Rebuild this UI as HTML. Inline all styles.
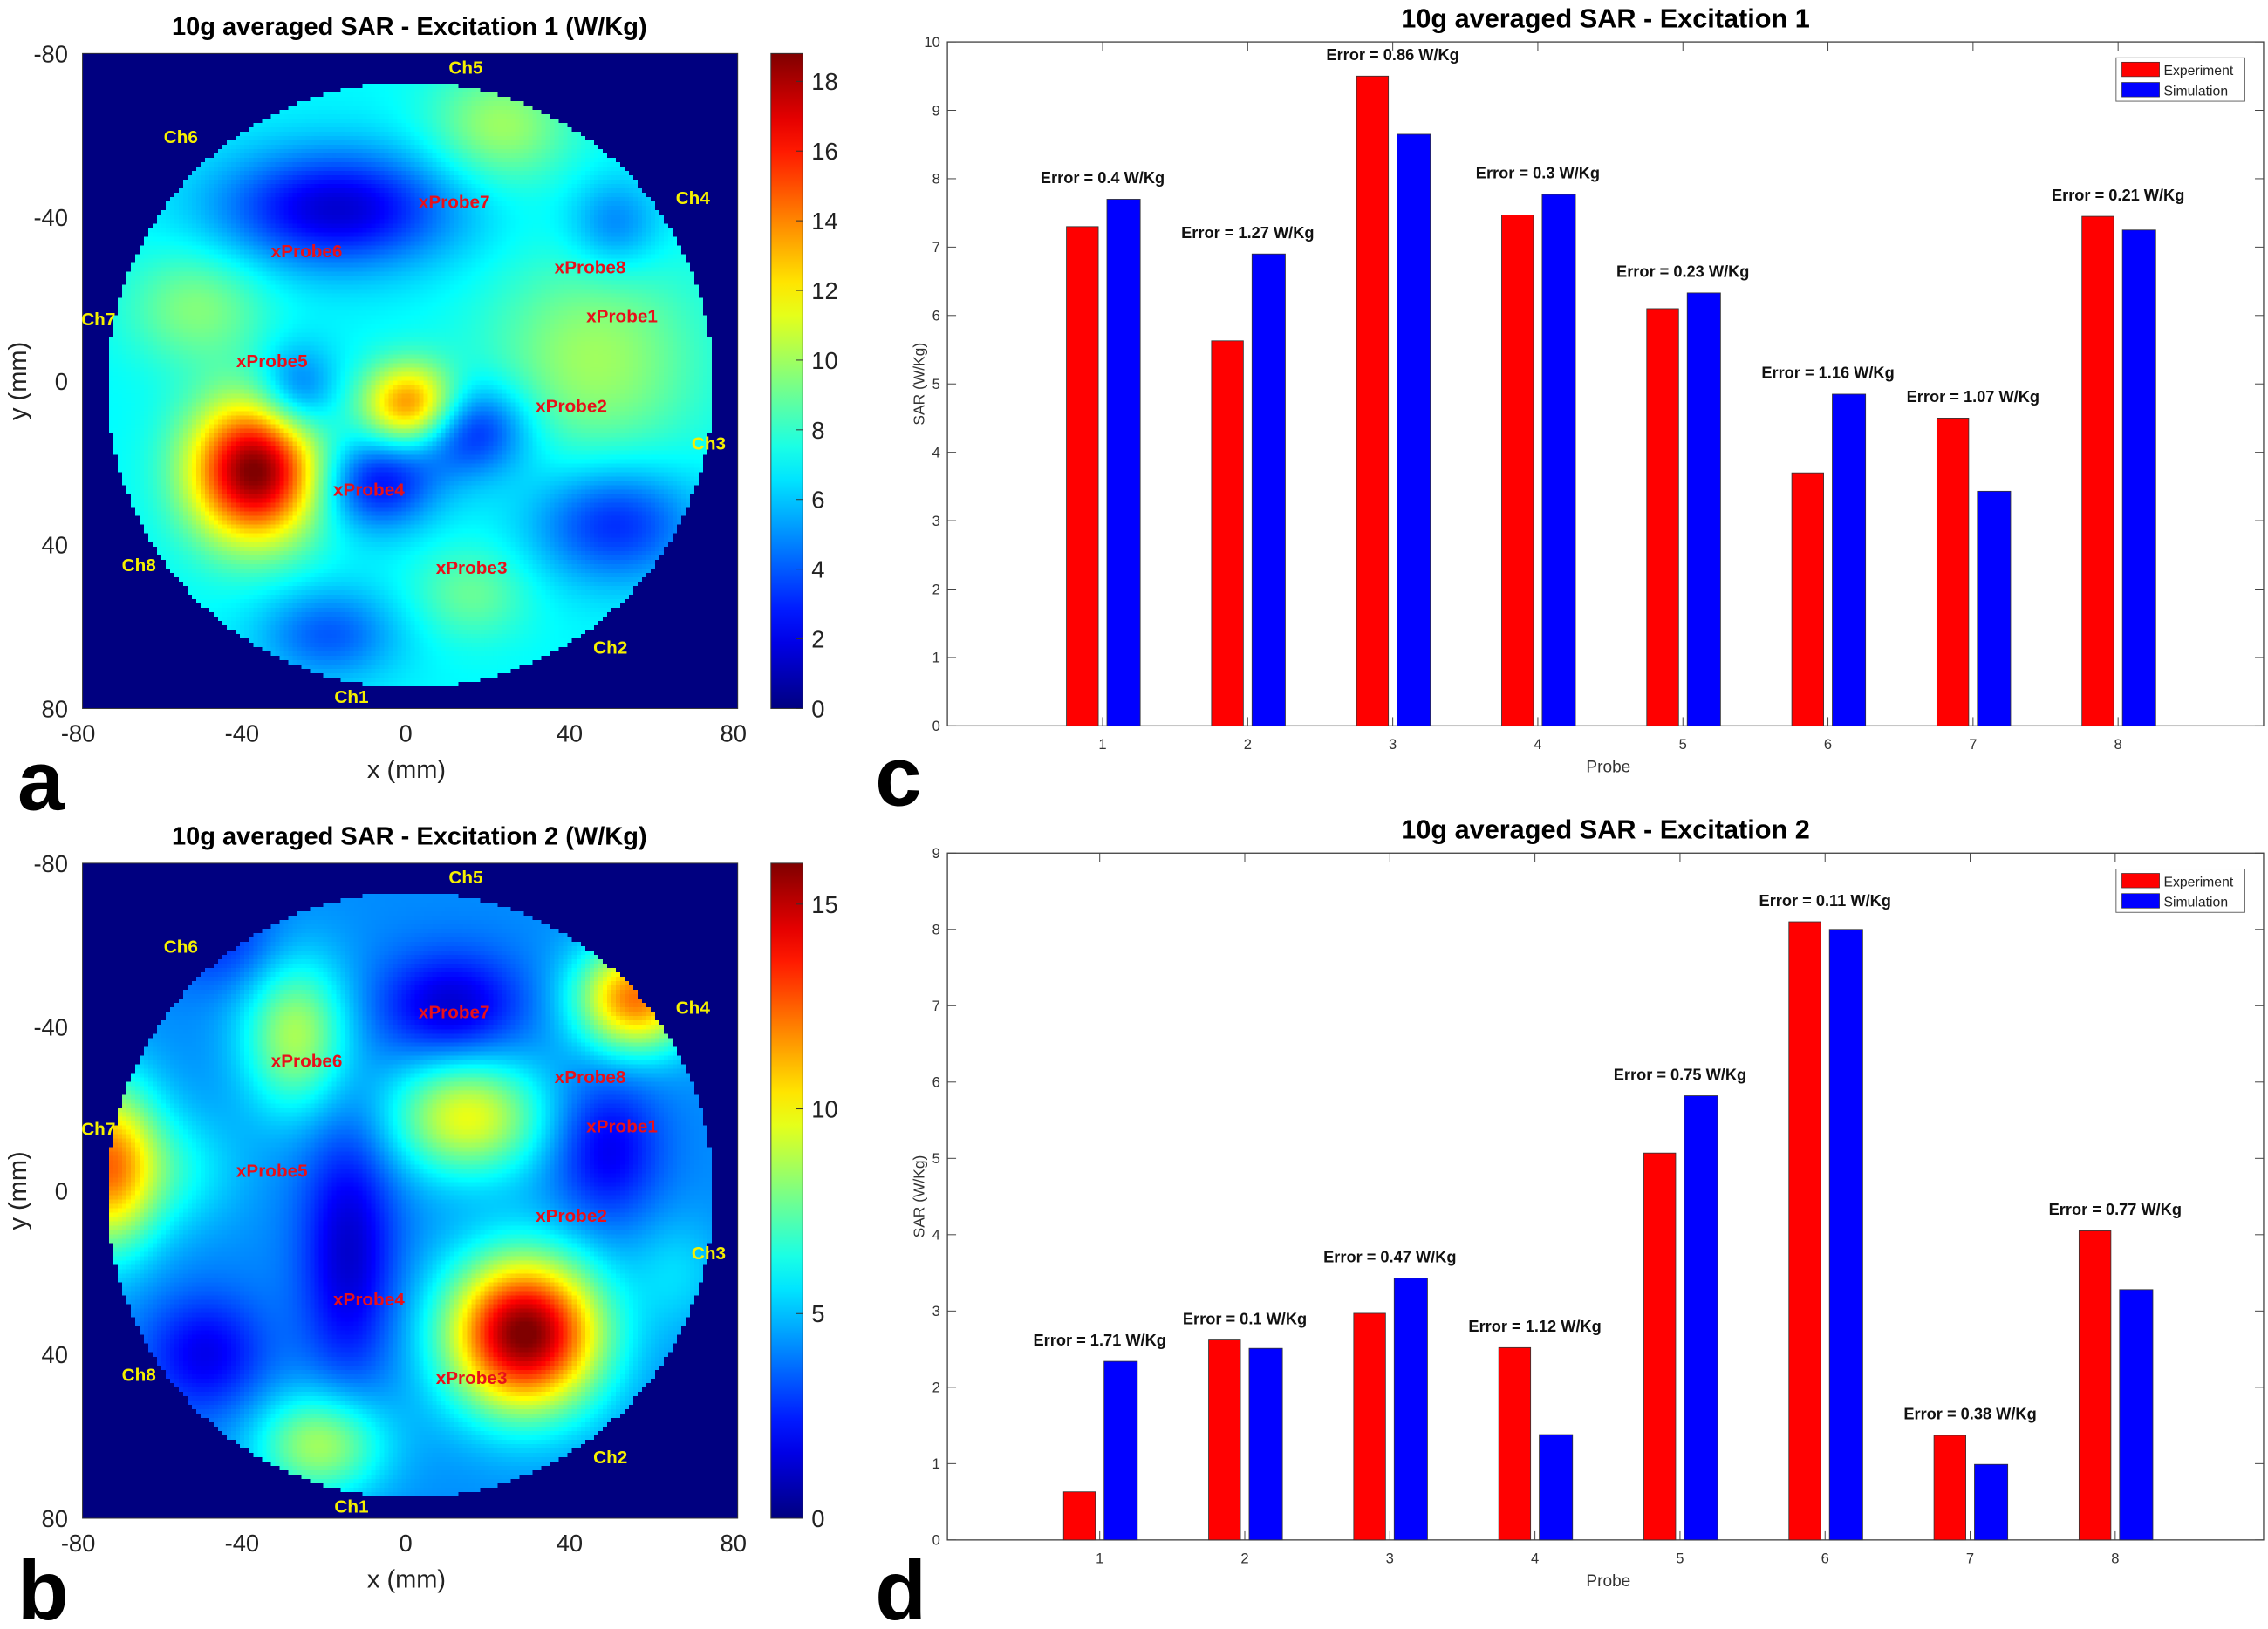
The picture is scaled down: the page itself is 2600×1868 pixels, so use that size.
<!DOCTYPE html>
<html><head><meta charset="utf-8">
<style>
html,body{margin:0;padding:0;background:#fff;}
#root{position:relative;width:2600px;height:1868px;overflow:hidden;background:#fff;}
svg{position:absolute;left:0;top:0;}
canvas{position:absolute;image-rendering:pixelated;}
text{font-family:"Liberation Sans",Arial,sans-serif;}
</style></head>
<body>
<div id="root">
<canvas id="hmA" width="150" height="150"></canvas>
<canvas id="hmB" width="150" height="150"></canvas>
<svg id="main" width="2600" height="1868" viewBox="0 0 1568 1126.6"></svg>
</div>
<script>
// ---------- data ----------
const probes = [1,2,3,4,5,6,7,8];
const expC = [7.3,5.63,9.5,7.47,6.1,3.7,4.5,7.45];
const simC = [7.7,6.9,8.65,7.77,6.33,4.85,3.43,7.25];
const errC = ["0.4","1.27","0.86","0.3","0.23","1.16","1.07","0.21"];
const expD = [0.63,2.62,2.97,2.52,5.07,8.1,1.37,4.05];
const simD = [2.34,2.51,3.43,1.38,5.82,8.0,0.99,3.28];
const errD = ["1.71","0.1","0.47","1.12","0.75","0.11","0.38","0.77"];
const yTicksC = [0,1,2,3,4,5,6,7,8,9,10];
const yTicksD = [0,1,2,3,4,5,6,7,8,9];
const mapTicks = [-80,-40,0,40,80];
const cbTicksA = [0,2,4,6,8,10,12,14,16,18];
const cbTicksB = [0,5,10,15];
// heatmap blobs: [x mm, y mm, amplitude, sigma-x mm, sigma-y mm]
const baseA = 7;
const blobsA = [[-38,22,12,11,12],[0,6,7.5,8,7],[-18,-42,-5.5,20,10],[-8,25,-4.5,10,8],[15,12,-4.5,10,8],[50,35,-4,14,10],[-28,3,-3.5,7,8],[50,-38,-2.5,8,8],[-20,62,-3,12,8],[22,-62,3,12,10],[-52,-18,2.5,12,10],[45,-5,3,18,18],[15,52,2,10,8]];
const baseB = 4.2;
const blobsB = [[28,35,12,13,13],[55,-47,8,10,9],[-74,-6,8,9,14],[14,-18,5.5,13,10],[-28,-38,4.5,9,13],[-22,62,4.5,11,9],[-15,15,-3,8,22],[10,-45,-3,12,9],[-50,40,-2.5,10,10],[48,-10,-2.5,9,12],[-55,-5,1.5,10,10],[65,20,1.2,8,10],[-45,-60,-1.5,10,8]];
const chA = [["Ch5",322,47],["Ch6",125,95],["Ch4",479,137],["Ch7",68,221],["Ch3",490,307],["Ch8",96,391],["Ch2",422,448],["Ch1",243,482]];
const prA = [["xProbe7",314,140],["xProbe6",212,174],["xProbe8",408,185],["xProbe1",430,219],["xProbe5",188,250],["xProbe2",395,281],["xProbe4",255,339],["xProbe3",326,393]];

const S = 2600/1568;
const NS = "http://www.w3.org/2000/svg";
const svg = document.getElementById('main');
function el(tag, attrs, parent, txt){
  const e = document.createElementNS(NS, tag);
  for (const k in attrs) e.setAttribute(k, attrs[k]);
  if (txt !== undefined) e.textContent = txt;
  (parent||svg).appendChild(e);
  return e;
}
function jet(t){
  t=Math.max(0,Math.min(1,t));
  const r=Math.max(0,Math.min(1,1.5-Math.abs(4*t-3)));
  const g=Math.max(0,Math.min(1,1.5-Math.abs(4*t-2)));
  const b=Math.max(0,Math.min(1,1.5-Math.abs(4*t-1)));
  return [Math.round(r*255),Math.round(g*255),Math.round(b*255)];
}
const defs = el('defs',{});
const lg = el('linearGradient',{id:'jetg',x1:'0',y1:'1',x2:'0',y2:'0'},defs);
for(let i=0;i<=20;i++){const c=jet(i/20);el('stop',{offset:(i/20),'stop-color':`rgb(${c})`},lg);}

function heat(canvasId, top, base, blobs, vmax, title, cbTicks, chs, dy, letter){
  const L=57, T=top, W=453;
  const cv=document.getElementById(canvasId);
  cv.style.left=(L*S)+'px'; cv.style.top=(T*S)+'px';
  cv.style.width=(W*S)+'px'; cv.style.height=(W*S)+'px';
  const ctx=cv.getContext('2d'); const N=150;
  const img=ctx.createImageData(N,N);
  for(let j=0;j<N;j++)for(let i=0;i<N;i++){
    const x=-80+(i+0.5)*160/N, y=-80+(j+0.5)*160/N;
    let v;
    if (x*x+(y-1)*(y-1)>74*74) v=0;
    else { v=base; for(const b of blobs){const dx=(x-b[0])/b[3],dy2=(y-b[1])/b[4];v+=b[2]*Math.exp(-(dx*dx+dy2*dy2)/2);} v=Math.max(1.0,v); }
    const c=jet(v/vmax); const k=(j*N+i)*4;
    img.data[k]=c[0];img.data[k+1]=c[1];img.data[k+2]=c[2];img.data[k+3]=255;
  }
  ctx.putImageData(img,0,0);
  const g=el('g',{});
  const mx=v=>L+(v+80)/160*W, my=v=>T+(v+80)/160*W;
  el('rect',{x:L,y:T,width:W,height:W,fill:'none',stroke:'#333','stroke-width':0.6},g);
  el('text',{x:283,y:T-13,'text-anchor':'middle','font-size':17.5,'font-weight':'bold'},g,title);
  for(const t of mapTicks){
    el('text',{x:mx(t)-3,y:T+W+23,'text-anchor':'middle','font-size':16.5,fill:'#222'},g,String(t));
    el('text',{x:L-10,y:my(t)+6,'text-anchor':'end','font-size':16.5,fill:'#222'},g,String(t));
  }
  el('text',{x:281,y:T+W+48,'text-anchor':'middle','font-size':17.5,fill:'#222'},g,'x (mm)');
  el('text',{x:0,y:0,'text-anchor':'middle','font-size':17.5,fill:'#222',transform:`translate(18,${T+W/2}) rotate(-90)`},g,'y (mm)');
  el('rect',{x:533,y:T,width:22,height:W,fill:'url(#jetg)',stroke:'#333','stroke-width':0.6,},g);
  for(const t of cbTicks){
    const yy=T+W-t/vmax*W;
    el('line',{x1:550,x2:555,y1:yy,y2:yy,stroke:'#333','stroke-width':0.6},g);
    el('text',{x:561,y:yy+6,'font-size':16.5,fill:'#222'},g,String(t));
  }
  for(const c of chs[0]) el('text',{x:c[1],y:c[2]+dy+4,'text-anchor':'middle','font-size':12.5,'font-weight':'bold',fill:'#f5f000'},g,c[0]);
  for(const c of chs[1]) el('text',{x:c[1],y:c[2]+dy+4,'text-anchor':'middle','font-size':12.5,'font-weight':'bold',fill:'#e8101a'},g,c[0]);
  el('text',{x:12,y:T+W+70,'font-size':58,'font-weight':'bold',fill:'#000'},g,letter);
}
heat('hmA',37,baseA,blobsA,18.8,'10g averaged SAR - Excitation 1 (W/Kg)',cbTicksA,[chA,prA],0,'a');
heat('hmB',597,baseB,blobsB,16.0,'10g averaged SAR - Excitation 2 (W/Kg)',cbTicksB,[chA,prA],560,'b');

function bars(top,bottom,ymax,exp,sim,err,ticks,title,letter,left0){
  const L=655,R=1565;
  const g=el('g',{});
  const xs=v=>left0+v*100.3;
  const ys=v=>bottom-v/ymax*(bottom-top);
  el('rect',{x:L,y:top,width:R-L,height:bottom-top,fill:'#fff',stroke:'#444','stroke-width':0.8},g);
  el('text',{x:1110,y:top-10,'text-anchor':'middle','font-size':18.5,'font-weight':'bold'},g,title);
  for(const t of ticks){
    const yy=ys(t);
    el('line',{x1:L,x2:L+6,y1:yy,y2:yy,stroke:'#444','stroke-width':0.6},g);
    el('line',{x1:R-6,x2:R,y1:yy,y2:yy,stroke:'#444','stroke-width':0.6},g);
    el('text',{x:L-5,y:yy+3.5,'text-anchor':'end','font-size':10,fill:'#333'},g,String(t));
  }
  probes.forEach((p,i)=>{
    const xc=xs(p);
    el('line',{x1:xc,x2:xc,y1:bottom,y2:bottom-6,stroke:'#444','stroke-width':0.6},g);
    el('line',{x1:xc,x2:xc,y1:top,y2:top+6,stroke:'#444','stroke-width':0.6},g);
    el('text',{x:xc,y:bottom+16,'text-anchor':'middle','font-size':10,fill:'#333'},g,String(p));
    const r=el('rect',{x:xc-25,y:ys(exp[i]),width:22,height:bottom-ys(exp[i]),fill:'#ff0000',stroke:'#333','stroke-width':0.5},g);
    
    
    const b=el('rect',{x:xc+3,y:ys(sim[i]),width:23,height:bottom-ys(sim[i]),fill:'#0000ff',stroke:'#333','stroke-width':0.5},g);
    
    
    const tt=ys(Math.max(exp[i],sim[i]))-11;
    const lbl=el('text',{x:xc,y:tt,'text-anchor':'middle','font-size':11,'font-weight':'bold',fill:'#111'},g,'Error = '+err[i]+' W/Kg');
    
    
  });
  el('text',{x:1112,y:bottom+32,'text-anchor':'middle','font-size':11.5,fill:'#333'},g,'Probe');
  el('text',{x:0,y:0,'text-anchor':'middle','font-size':10.5,fill:'#333',transform:`translate(639,${(top+bottom)/2}) rotate(-90)`},g,'SAR (W/Kg)');
  const lt=top+11;
  const lgd=el('g',{},g);
  el('rect',{x:1463,y:lt,width:89,height:30,fill:'#fff',stroke:'#666','stroke-width':0.6},lgd);
  el('rect',{x:1467,y:lt+3,width:26,height:10,fill:'#ff0000',stroke:'#333','stroke-width':0.4},lgd);
  el('rect',{x:1467,y:lt+17,width:26,height:10,fill:'#0000ff',stroke:'#333','stroke-width':0.4},lgd);
  el('text',{x:1496,y:lt+12,'font-size':9.5,fill:'#222'},lgd,'Experiment');
  el('text',{x:1496,y:lt+26,'font-size':9.5,fill:'#222'},lgd,'Simulation');
  el('text',{x:605,y:bottom+55,'font-size':58,'font-weight':'bold',fill:'#000'},g,letter);
}
bars(29,502,10,expC,simC,errC,yTicksC,'10g averaged SAR - Excitation 1','c',662);
bars(590,1065,9,expD,simD,errD,yTicksD,'10g averaged SAR - Excitation 2','d',660);
</script>
</body></html>
